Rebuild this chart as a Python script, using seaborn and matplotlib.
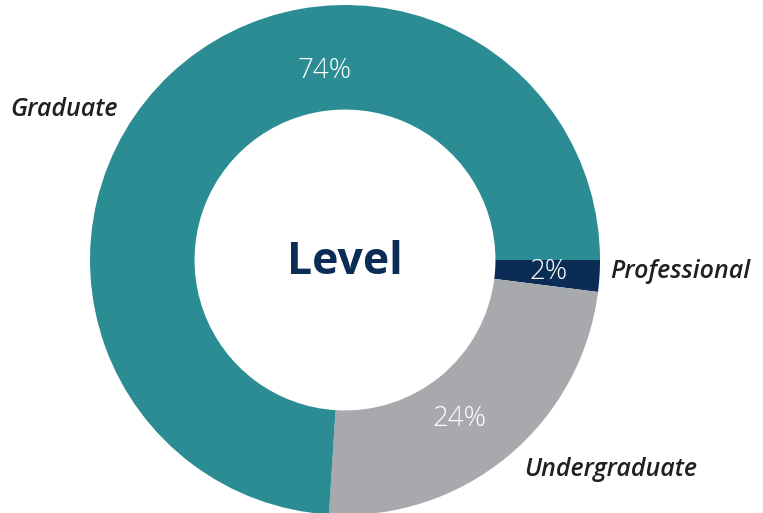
import matplotlib
matplotlib.use("Agg")
import matplotlib.pyplot as plt
import seaborn as sns
import numpy as np

categories = ["Professional", "Undergraduate", "Graduate"]
shares = [2, 24, 74]
pct_labels = ["2%", "24%", "74%"]
colors = ["#0B2D55", "#A7A9AC", "#2B8C93"]
center_title = "Level"

sns.set_theme(style="white")
plt.rcParams['font.family'] = ['Open Sans', 'DejaVu Sans']

W, H = 763, 513
fig = plt.figure(figsize=(W / 100, H / 100), dpi=100)
cx, cy, R = 345, 260, 255
ax = fig.add_axes([(cx - R) / W, (H - cy - R) / H, 2 * R / W, 2 * R / H])

wedges, _ = ax.pie(shares, colors=colors, startangle=0, counterclock=False,
                   radius=1.0, wedgeprops=dict(width=0.41, linewidth=0))
ax.set_xlim(-1, 1)
ax.set_ylim(-1, 1)
ax.axis("off")

def px(x, y):
    return (x - cx) / R, (cy - y) / R

# percent labels
pct_pos = [px(549, 272), px(460, 419), px(325, 71)]
for (x, y), t in zip(pct_pos, pct_labels):
    ax.text(x, y, t, ha="center", va="center", color="white",
            fontsize=20, fontweight="light")

# category labels
lab_pos = [(px(610, 271), "left"), (px(524, 469), "left"), (px(10, 110), "left")]
for ((x, y), ha), t in zip(lab_pos, categories):
    ax.text(x, y, t, ha=ha, va="center", color="#231F20", fontsize=18,
            fontweight="semibold", fontstyle="italic")

ax.text(0, px(0, 262)[1], center_title, ha="center", va="center",
        color="#0B2D55", fontsize=32, fontweight="bold")

fig.savefig("out.png", dpi=100)
